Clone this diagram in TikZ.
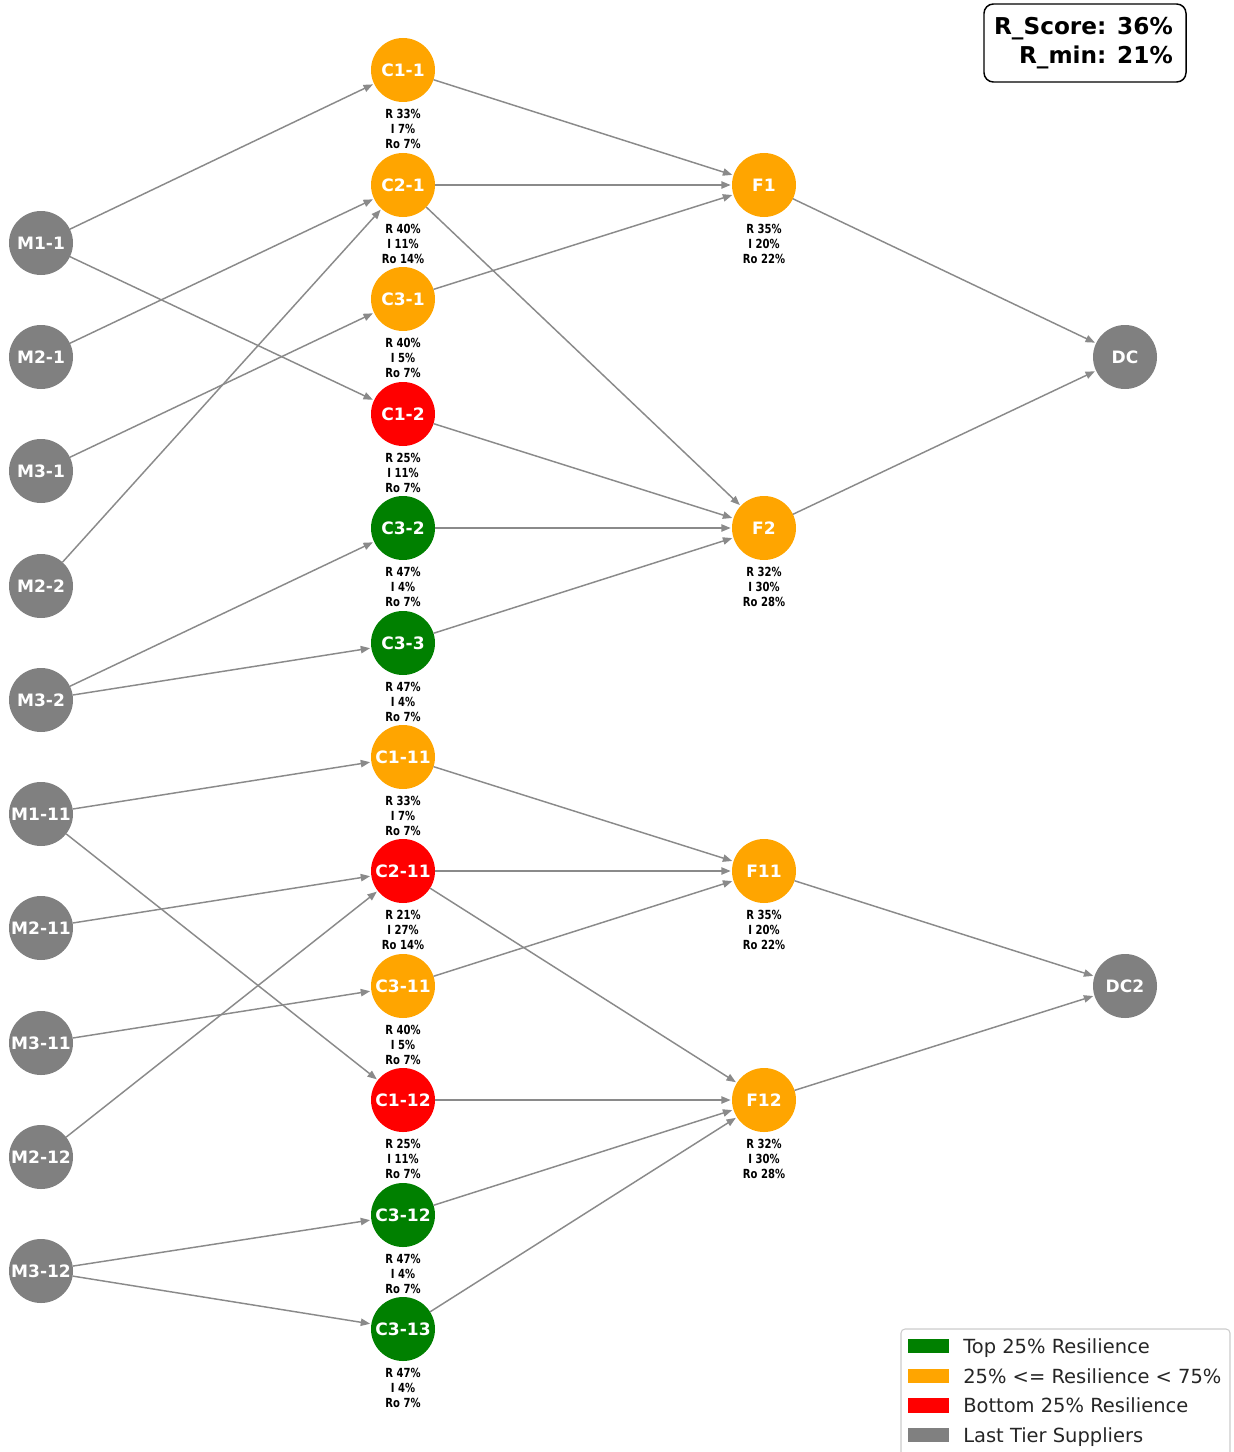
\documentclass[tikz,border=0pt]{standalone}
\usepackage{fontspec}
\setmainfont{DejaVu Sans}
\newfontfamily\nodefont{DejaVu Sans Bold}
\newfontfamily\statfont{DejaVu Sans Bold}[FakeStretch=0.8]
\usetikzlibrary{arrows.meta}
\definecolor{tgreen}{HTML}{008000}
\definecolor{torange}{HTML}{FFA500}
\definecolor{tred}{HTML}{FF0000}
\definecolor{tgray}{HTML}{808080}
\definecolor{edgegray}{HTML}{8A8A8A}
\definecolor{legline}{HTML}{CCCCCC}

\tikzset{
  nd/.style={circle, minimum size=48pt, inner sep=0pt, outer sep=0pt,
             text=white, font=\nodefont\fontsize{12.8}{14}\selectfont},
  stat/.style={anchor=north, inner sep=0pt, align=center,
               font=\statfont\fontsize{9.4}{11.25}\selectfont},
  edge/.style={draw=edgegray, line width=1.1pt, shorten >=1pt,
               -{Triangle[length=7pt,width=5.5pt]}},
  legpatch/.style={minimum width=30.75pt, minimum height=11pt, inner sep=0pt},
  legtext/.style={anchor=base west, inner sep=0pt,
                  font=\fontsize{14.6}{17}\selectfont, text=black!85},
}

% \tiernode{name}{x}{y}{fill}{label}
\newcommand{\tiernode}[5]{\node[nd, fill=#4] (#1) at (#2,#3) {#5};}
% \tierstats{name}{R}{I}{Ro}
\newcommand{\tierstats}[4]{\node[stat] (#1s) at ([yshift=-29pt]#1.center) {R #2\%\\I #3\%\\Ro #4\%};}

\begin{document}
\begin{tikzpicture}[x=0.75pt, y=-0.75pt]
\useasboundingbox (0,0) rectangle (1233,1452);

% last tier suppliers
\tiernode{M11}{41}{243}{tgray}{M1-1}
\tiernode{M21}{41}{357}{tgray}{M2-1}
\tiernode{M31}{41}{471}{tgray}{M3-1}
\tiernode{M22}{41}{586}{tgray}{M2-2}
\tiernode{M32}{41}{700}{tgray}{M3-2}
\tiernode{M111}{41}{814}{tgray}{M1-11}
\tiernode{M211}{41}{928}{tgray}{M2-11}
\tiernode{M311}{41}{1043}{tgray}{M3-11}
\tiernode{M212}{41}{1157}{tgray}{M2-12}
\tiernode{M312}{41}{1271}{tgray}{M3-12}

% component suppliers
\tiernode{C11}{403}{70}{torange}{C1-1}
\tiernode{C21}{403}{185}{torange}{C2-1}
\tiernode{C31}{403}{299}{torange}{C3-1}
\tiernode{C12}{403}{414}{tred}{C1-2}
\tiernode{C32}{403}{528}{tgreen}{C3-2}
\tiernode{C33}{403}{643}{tgreen}{C3-3}
\tiernode{C111}{403}{757}{torange}{C1-11}
\tiernode{C211}{403}{871}{tred}{C2-11}
\tiernode{C311}{403}{986}{torange}{C3-11}
\tiernode{C112}{403}{1100}{tred}{C1-12}
\tiernode{C312}{403}{1215}{tgreen}{C3-12}
\tiernode{C313}{403}{1329}{tgreen}{C3-13}

% factories
\tiernode{F1}{764}{185}{torange}{F1}
\tiernode{F2}{764}{528}{torange}{F2}
\tiernode{F11}{764}{871}{torange}{F11}
\tiernode{F12}{764}{1100}{torange}{F12}

% distribution centres
\tiernode{DC}{1125}{357}{tgray}{DC}
\tiernode{DC2}{1125}{986}{tgray}{DC2}

% resilience figures
\tierstats{C11}{33}{7}{7}
\tierstats{C21}{40}{11}{14}
\tierstats{C31}{40}{5}{7}
\tierstats{C12}{25}{11}{7}
\tierstats{C32}{47}{4}{7}
\tierstats{C33}{47}{4}{7}
\tierstats{C111}{33}{7}{7}
\tierstats{C211}{21}{27}{14}
\tierstats{C311}{40}{5}{7}
\tierstats{C112}{25}{11}{7}
\tierstats{C312}{47}{4}{7}
\tierstats{C313}{47}{4}{7}
\tierstats{F1}{35}{20}{22}
\tierstats{F2}{32}{30}{28}
\tierstats{F11}{35}{20}{22}
\tierstats{F12}{32}{30}{28}

% supply links
\draw[edge] (M11) -- (C11);
\draw[edge] (M11) -- (C12);
\draw[edge] (M21) -- (C21);
\draw[edge] (M31) -- (C31);
\draw[edge] (M22) -- (C21);
\draw[edge] (M32) -- (C32);
\draw[edge] (M32) -- (C33);
\draw[edge] (M111) -- (C111);
\draw[edge] (M111) -- (C112);
\draw[edge] (M211) -- (C211);
\draw[edge] (M311) -- (C311);
\draw[edge] (M212) -- (C211);
\draw[edge] (M312) -- (C312);
\draw[edge] (M312) -- (C313);

\draw[edge] (C11) -- (F1);
\draw[edge] (C21) -- (F1);
\draw[edge] (C31) -- (F1);
\draw[edge] (C21) -- (F2);
\draw[edge] (C12) -- (F2);
\draw[edge] (C32) -- (F2);
\draw[edge] (C33) -- (F2);
\draw[edge] (C111) -- (F11);
\draw[edge] (C211) -- (F11);
\draw[edge] (C311) -- (F11);
\draw[edge] (C211) -- (F12);
\draw[edge] (C112) -- (F12);
\draw[edge] (C312) -- (F12);
\draw[edge] (C313) -- (F12);

\draw[edge] (F1) -- (DC);
\draw[edge] (F2) -- (DC);
\draw[edge] (F11) -- (DC2);
\draw[edge] (F12) -- (DC2);

% score box
\draw[black, line width=1.1pt, rounded corners=7pt] (984,4) rectangle (1186,82);
\node[anchor=east, inner sep=0pt, align=right,
      font=\nodefont\fontsize{17.4}{21.75}\selectfont] (score) at (1173,43)
      {R\_Score: 36\%\\R\_min: 21\%};

% legend
\draw[legline, line width=0.8pt, fill=white, rounded corners=3pt]
  (901,1329) rectangle (1230,1470);
\node[legpatch, fill=tgreen]  (lg1) at (928,1346) {};
\node[legpatch, fill=torange] (lg2) at (928,1376) {};
\node[legpatch, fill=tred]    (lg3) at (928,1405.5) {};
\node[legpatch, fill=tgray]   (lg4) at (928,1435) {};
\node[legtext] (lt1) at (963,1353) {Top 25\% Resilience};
\node[legtext] (lt2) at (963,1383) {25\% <= Resilience < 75\%};
\node[legtext] (lt3) at (963,1412.5) {Bottom 25\% Resilience};
\node[legtext] (lt4) at (963,1442) {Last Tier Suppliers};
\end{tikzpicture}
\end{document}
